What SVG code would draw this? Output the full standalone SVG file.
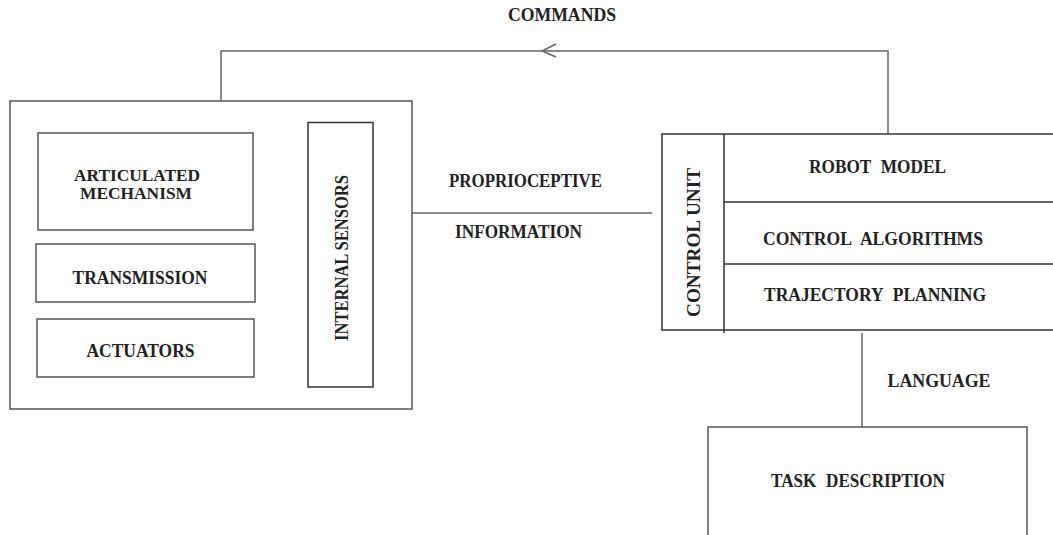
<svg xmlns="http://www.w3.org/2000/svg" width="1053" height="535" viewBox="0 0 1053 535">
<style>
.box{fill:none;stroke:#555;stroke-width:1.5}
.dark{fill:none;stroke:#333;stroke-width:1.5}
.con{fill:none;stroke:#666;stroke-width:1.5}
text{font-family:"Liberation Serif","Times New Roman",serif;font-size:19px;font-weight:bold;fill:#222;text-anchor:middle}
.ws{word-spacing:6px}
.sm{font-size:16px}
</style>
<rect width="1053" height="535" fill="#fff"/>
<g id="connectors">
<path class="con" d="M221,101 V51 H888 V134"/>
<polyline class="con" points="556,44 542,51 556,57"/>
<path class="con" d="M412,213 H652"/>
<path class="con" d="M862,333 V427"/>
<text x="562" y="21" textLength="108" lengthAdjust="spacingAndGlyphs">COMMANDS</text>
<text x="525.5" y="187" textLength="153" lengthAdjust="spacingAndGlyphs">PROPRIOCEPTIVE</text>
<text x="518.5" y="237.5" textLength="127" lengthAdjust="spacingAndGlyphs">INFORMATION</text>
<text x="939" y="386.5" textLength="103" lengthAdjust="spacingAndGlyphs">LANGUAGE</text>
</g>
<g id="manipulator">
<rect class="box" x="10" y="101" width="402" height="308"/>
</g>
<g id="articulated-mechanism">
<rect class="box" x="38" y="133" width="215" height="97"/>
<text class="sm" x="137" y="180.5" textLength="126" lengthAdjust="spacingAndGlyphs">ARTICULATED</text>
<text class="sm" x="136" y="199" textLength="112" lengthAdjust="spacingAndGlyphs">MECHANISM</text>
</g>
<g id="transmission">
<rect class="box" x="36" y="244" width="219" height="58"/>
<text x="140" y="284" textLength="135" lengthAdjust="spacingAndGlyphs">TRANSMISSION</text>
</g>
<g id="actuators">
<rect class="box" x="37" y="319" width="217" height="58"/>
<text x="140.5" y="357" textLength="108" lengthAdjust="spacingAndGlyphs">ACTUATORS</text>
</g>
<g id="internal-sensors">
<rect class="dark" x="308" y="122.5" width="65" height="264.5"/>
<text transform="translate(348,258) rotate(-90)" textLength="166" lengthAdjust="spacingAndGlyphs">INTERNAL SENSORS</text>
</g>
<g id="control-unit">
<path class="dark" d="M1060,134 H662 V330 H1060"/>
<path class="dark" d="M724,134 V333 M724,202 H1060 M724,264 H1060"/>
<text transform="translate(700,242.5) rotate(-90)" textLength="149" lengthAdjust="spacingAndGlyphs">CONTROL UNIT</text>
<text class="ws" x="877.5" y="173" textLength="137" lengthAdjust="spacingAndGlyphs">ROBOT MODEL</text>
<text class="ws" x="873" y="245" textLength="220" lengthAdjust="spacingAndGlyphs">CONTROL ALGORITHMS</text>
<text class="ws" x="875" y="301" textLength="222" lengthAdjust="spacingAndGlyphs">TRAJECTORY PLANNING</text>
</g>
<g id="task-description">
<path class="box" d="M708,540 V427 H1027 V540"/>
<text class="ws" x="858" y="486.5" textLength="174" lengthAdjust="spacingAndGlyphs">TASK DESCRIPTION</text>
</g>
</svg>
